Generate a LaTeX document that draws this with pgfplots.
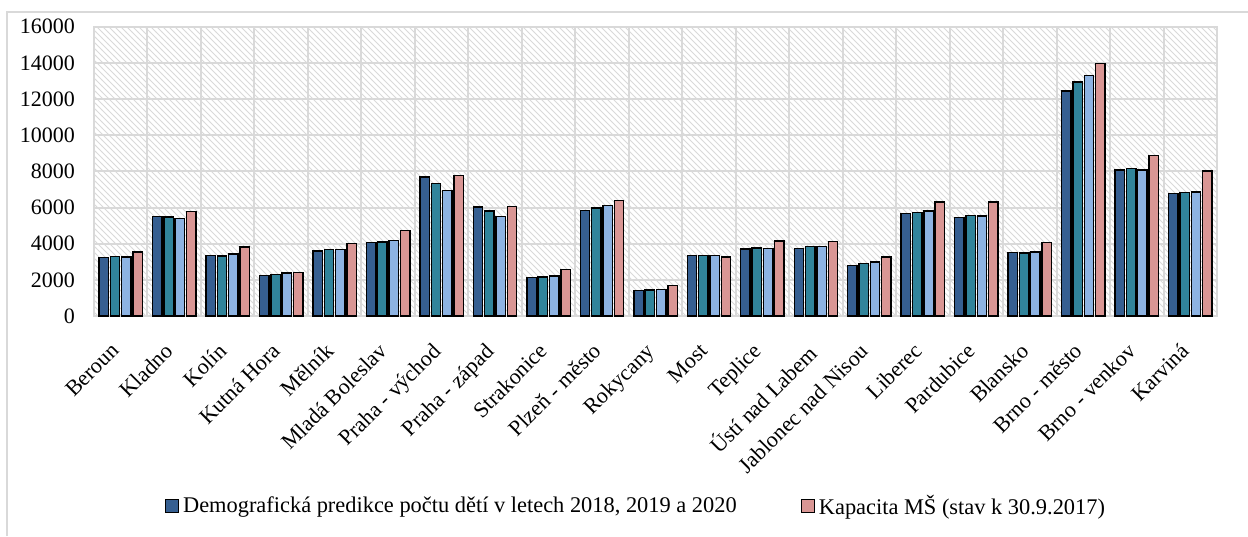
\documentclass[border=0pt]{standalone}
\usepackage{fontspec}
\setmainfont{Liberation Serif}
\usepackage{pgfplots}
\usepackage{pgfplotstable}
\pgfplotsset{compat=1.18}
\usetikzlibrary{patterns}
\definecolor{cA}{HTML}{365F91}
\definecolor{cB}{HTML}{31849B}
\definecolor{cC}{HTML}{8DB3E2}
\definecolor{cD}{HTML}{D99694}
\definecolor{gridc}{HTML}{D9D9D9}
\pgfplotstableread{
x a b c d
0 3250 3300 3260 3540
1 5490 5475 5380 5790
2 3355 3320 3430 3815
3 2230 2305 2380 2395
4 3595 3670 3670 4020
5 4055 4090 4165 4735
6 7690 7335 6950 7760
7 6030 5805 5510 6045
8 2120 2155 2210 2580
9 5825 5970 6100 6395
10 1420 1440 1475 1675
11 3335 3355 3335 3265
12 3705 3760 3725 4145
13 3740 3835 3835 4110
14 2785 2910 2985 3265
15 5660 5715 5805 6305
16 5455 5565 5530 6305
17 3520 3485 3540 4075
18 12440 12940 13310 13955
19 8075 8145 8075 8885
20 6765 6840 6855 8020
}\data
\begin{document}
\begin{tikzpicture}
\useasboundingbox (0,0) rectangle (624pt,268pt);
\draw[gridc, line width=1pt] (3.5pt,0) -- (3.5pt,262pt) -- (624pt,262pt);
\begin{axis}[
  at={(47pt,110pt)}, anchor=south west,
  scale only axis, width=561.5pt, height=144.65pt,
  xmin=-0.5, xmax=20.5, ymin=0, ymax=16000,
  ytick={0,2000,...,16000},
  scaled y ticks=false,
  /pgf/number format/1000 sep={},
  /pgf/number format/assume math mode=true,
  xtick={0,...,20},
  xticklabels={Beroun,Kladno,Kolín,Kutná Hora,Mělník,Mladá Boleslav,Praha - východ,Praha - západ,Strakonice,Plzeň - město,Rokycany,Most,Teplice,Ústí nad Labem,Jablonec nad Nisou,Liberec,Pardubice,Blansko,Brno - město,Brno - venkov,Karviná},
  minor xtick={-0.5,0.5,...,20.5},
  xminorgrids, ymajorgrids,
  major grid style={gridc, line width=1pt},
  minor grid style={gridc, line width=1pt},
  major tick length=0pt, minor tick length=0pt,
  axis line style={gridc, line width=1pt},
  axis background/.style={pattern=north west lines, pattern color=gridc},
  tick label style={font=\fontsize{11}{13}\selectfont, black},
  yticklabel style={xshift=-6pt},
  xticklabel style={rotate=45, anchor=north east, xshift=-9.4pt, yshift=-1.9pt},
  ybar, bar width=4.7pt,
  every axis plot/.append style={draw=black, line width=0.7pt},
  legend columns=2,
  legend style={at={(0.4835,-0.657)}, anchor=center, draw=none, fill=none,
    font=\fontsize{11.2}{13}\selectfont,
    /tikz/every even column/.append style={column sep=30pt}},
  legend image code/.code={\draw[#1, line width=0.6pt] (0pt,-3.25pt) rectangle (6.5pt,3.25pt);},
]
\addplot[fill=cA, bar shift=-8.5pt] table[x=x, y=a] {\data};
\addlegendentry{Demografická predikce počtu dětí v letech 2018, 2019 a 2020}
\addplot[fill=cB, bar shift=-2.83pt, forget plot] table[x=x, y=b] {\data};
\addplot[fill=cC, bar shift=2.83pt, forget plot] table[x=x, y=c] {\data};
\addplot[fill=cD, bar shift=8.5pt] table[x=x, y=d] {\data};
\addlegendentry{Kapacita MŠ (stav k 30.9.2017)}
\end{axis}
\end{tikzpicture}
\end{document}
